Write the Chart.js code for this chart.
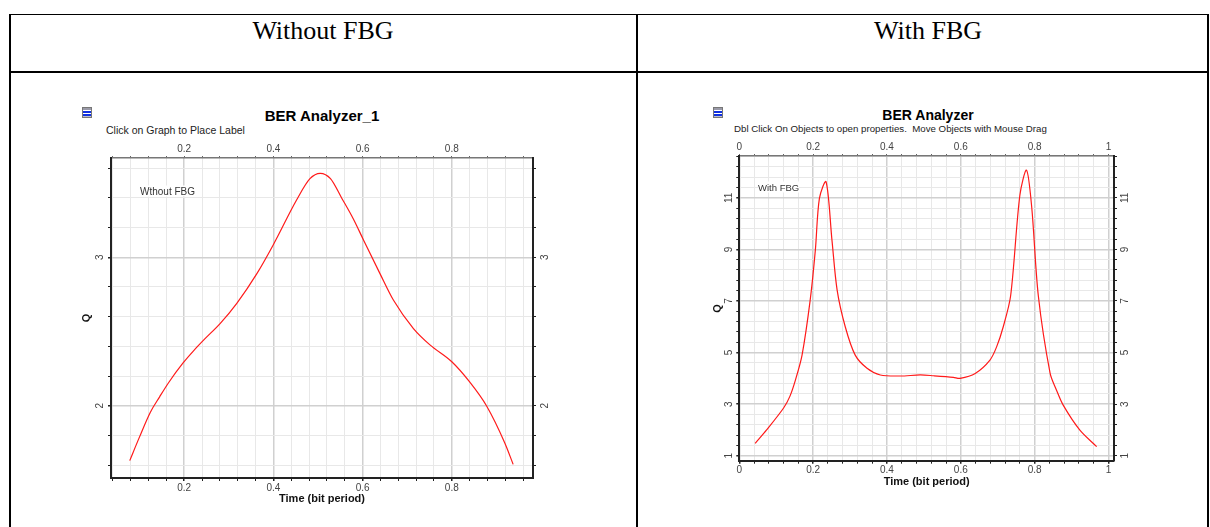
<!DOCTYPE html>
<html>
<head>
<meta charset="utf-8">
<script src="https://cdn.jsdelivr.net/npm/chart.js@4.4.1/dist/chart.umd.min.js"></script>
<style>
    html, body { margin: 0; padding: 0; background: #fff; width: 1210px; height: 527px; overflow: hidden; font-family: "Liberation Sans", Arial, sans-serif; }
    .rule { position: absolute; background: #000; }
    .head { position: absolute; top: 17.5px; font-family: "Liberation Serif", "Times New Roman", serif; font-size: 26px; line-height: 26px; transform: translateX(-50%); white-space: nowrap; }
    .title { position: absolute; font-weight: bold; font-size: 15px; line-height: 15px; transform: translate(-50%, -50%); white-space: nowrap; color: #000; }
    .sub { position: absolute; font-size: 10.5px; line-height: 10.5px; transform: translateY(-50%); white-space: pre; color: #222; }
    .note { position: absolute; z-index: 2; background: #fff; font-size: 10px; line-height: 11px; transform: translateY(-50%); white-space: nowrap; color: #333; }
    .icon { position: absolute; width: 10px; height: 11px; border: 1px solid #777; box-sizing: border-box;
            background: linear-gradient(#9a9aa8 0 2px, #fff 2px 3px, #1030e0 3px 5px, #fff 5px 6px, #1030e0 6px 8px, #c0c0c8 8px); }
    canvas { position: absolute; z-index: 1; }
</style>
</head>
<body>
<!-- table frame -->
<div class="rule" style="left:9px;top:13.5px;width:1199px;height:1.5px"></div>
<div class="rule" style="left:9px;top:71px;width:1199px;height:1.5px"></div>
<div class="rule" style="left:9px;top:13.5px;width:1.5px;height:514px"></div>
<div class="rule" style="left:636px;top:13.5px;width:1.5px;height:514px"></div>
<div class="rule" style="left:1207px;top:13.5px;width:1.5px;height:514px"></div>

<div class="head" style="left:323px">Without FBG</div>
<div class="head" style="left:928px">With FBG</div>

<div class="icon" style="left:82px;top:107px"></div>
<div class="title" style="left:322px;top:115px">BER Analyzer_1</div>
<div class="sub" style="left:106px;top:129.5px">Click on Graph to Place Label</div>
<div class="note" style="left:140px;top:191px">Wthout FBG</div>

<div class="icon" style="left:713px;top:107px"></div>
<div class="title" style="left:928px;top:115px;font-size:14px">BER Analyzer</div>
<div class="sub" style="left:734px;top:129px;font-size:9.7px">Dbl Click On Objects to open properties.  Move Objects with Mouse Drag</div>
<div class="note" style="left:758px;top:187px;font-size:9.5px">With FBG</div>

<canvas id="noFbg" width="530" height="374" style="left:60px;top:136px"></canvas>
<canvas id="withFbg" width="490" height="366" style="left:690px;top:134px"></canvas>

<script>
// Q factor vs time (bit period)
const noFbgTime = [0.078, 0.10, 0.124, 0.145, 0.165, 0.198, 0.221, 0.243, 0.281, 0.318, 0.363, 0.399, 0.452, 0.482, 0.505,
                   0.528, 0.553, 0.579, 0.602, 0.639, 0.669, 0.714, 0.751, 0.80, 0.84, 0.878, 0.919, 0.9375];
const noFbgQ = [1.63, 1.79, 1.955, 2.06, 2.155, 2.29, 2.37, 2.44, 2.555, 2.69, 2.89, 3.08, 3.386, 3.53, 3.566,
                3.53, 3.40, 3.26, 3.117, 2.89, 2.712, 2.52, 2.41, 2.296, 2.16, 1.998, 1.747, 1.605];

const fbgTime = [0.043, 0.074, 0.12, 0.137, 0.152, 0.17, 0.192, 0.206, 0.217, 0.235, 0.251, 0.265, 0.287, 0.314, 0.346,
                 0.382, 0.436, 0.49, 0.526, 0.58, 0.598, 0.639, 0.679, 0.697, 0.715, 0.735, 0.76, 0.778, 0.792, 0.81,
                 0.842, 0.859, 0.877, 0.922, 0.968];
const fbgQ = [1.48, 2.0, 2.85, 3.3, 3.93, 4.9, 7.03, 8.97, 10.98, 11.62, 9.36, 7.42, 6.0, 4.9, 4.39,
              4.13, 4.09, 4.13, 4.1, 4.04, 4.0, 4.19, 4.71, 5.22, 6.0, 7.2, 11.1, 12.07, 10.65, 7.2,
              4.19, 3.55, 2.97, 2.0, 1.35];

// labelled ticks
const noFbgXLabels = [0.2, 0.4, 0.6, 0.8];
const noFbgYLabels = [2, 3];
const fbgXLabels = [0, 0.2, 0.4, 0.6, 0.8, 1];
const fbgYLabels = [1, 3, 5, 7, 9, 11];

function stepTicks(start, end, step) {
    const out = [];
    for (let i = 0; start + i * step <= end + 1e-9; i++) out.push({ value: +(start + i * step).toFixed(4) });
    return out;
}
const isIn = (v, list) => list.some(l => Math.abs(l - v) < 1e-6);
const fmt = v => String(Math.round(v * 10) / 10);

// y tick labels are drawn turned on their side, like the original
const sideLabels = {
    id: 'sideLabels',
    afterDraw(chart, args, opts) {
        const { ctx, chartArea } = chart;
        ctx.save();
        ctx.font = '10px "Liberation Sans", Arial, sans-serif';
        ctx.fillStyle = '#444';
        ctx.textAlign = 'center';
        ctx.textBaseline = 'middle';
        opts.labels.forEach(v => {
            const y = chart.scales.y.getPixelForValue(v);
            [chartArea.left - opts.left, chartArea.right + opts.right].forEach(x => {
                ctx.save();
                ctx.translate(x, y);
                ctx.rotate(-Math.PI / 2);
                ctx.fillText(String(v), 0, 0);
                ctx.restore();
            });
        });
        ctx.restore();
    }
};

function makeChart(id, c) {
    const xGrid = {
        color: ctx => isIn(ctx.tick.value, c.xLabels) ? '#d0d0d0' : '#e8e8e8',
        lineWidth: ctx => isIn(ctx.tick.value, c.xLabels) ? 1.5 : 1,
        tickLength: 3, tickColor: '#222'
    };
    const yGrid = {
        color: ctx => isIn(ctx.tick.value, c.yLabels) ? '#d0d0d0' : '#e8e8e8',
        lineWidth: ctx => isIn(ctx.tick.value, c.yLabels) ? 1.5 : 1,
        tickLength: 3, tickColor: '#222'
    };
    const xTicks = { autoSkip: false, maxRotation: 0, color: '#444', font: { size: 10 },
                     callback: v => isIn(v, c.xLabels) ? fmt(v) : '' };
    const xStep = s => { s.ticks = stepTicks(c.xStart, c.xMax, 0.04); };
    const yStep = s => { s.ticks = stepTicks(c.yStart, c.yMax, c.yStep); };

    return new Chart(document.getElementById(id), {
        type: 'line',
        data: {
            datasets: [{
                data: c.time.map((t, i) => ({ x: t, y: c.q[i] })),
                borderColor: '#ff1a1a',
                borderWidth: 1.2,
                pointRadius: 0,
                tension: c.tension,
                cubicInterpolationMode: c.mode,
                fill: false
            }]
        },
        options: {
            responsive: false,
            animation: false,
            layout: { padding: 0 },
            plugins: {
                legend: { display: false },
                tooltip: { enabled: false },
                sideLabels: { labels: c.yLabels, left: c.labLeft, right: c.labRight }
            },
            scales: {
                x: {
                    type: 'linear', position: 'bottom', min: c.xMin, max: c.xMax,
                    afterBuildTicks: xStep,
                    afterFit: s => { s.height = c.bottomH; },
                    grid: xGrid,
                    border: { color: '#222', width: 2 },
                    ticks: Object.assign({ padding: 1 }, xTicks),
                    title: { display: true, text: 'Time (bit period)', color: '#111',
                             font: { size: 11, weight: 'bold' }, padding: { top: 0, bottom: c.titlePadX } }
                },
                x2: {
                    type: 'linear', position: 'top', min: c.xMin, max: c.xMax,
                    afterBuildTicks: xStep,
                    afterFit: s => { s.height = c.topH; },
                    grid: { drawOnChartArea: false, tickLength: 2, tickColor: '#666' },
                    border: { color: '#777', width: 1.5 },
                    ticks: Object.assign({ padding: 1 }, xTicks)
                },
                y: {
                    type: 'linear', position: 'left', min: c.yMin, max: c.yMax,
                    afterBuildTicks: yStep,
                    afterFit: s => { s.width = c.leftW; },
                    grid: yGrid,
                    border: { color: '#222', width: 2 },
                    ticks: { display: false },
                    title: { display: true, text: 'Q', color: '#111',
                             font: { size: 11, weight: 'bold' }, padding: { top: c.titlePadY, bottom: 0 } }
                },
                y2: {
                    type: 'linear', position: 'right', min: c.yMin, max: c.yMax,
                    afterBuildTicks: yStep,
                    afterFit: s => { s.width = c.rightW; },
                    grid: { drawOnChartArea: false, tickLength: 3, tickColor: '#222' },
                    border: { color: '#222', width: 2 },
                    ticks: { display: false }
                }
            }
        },
        plugins: [sideLabels]
    });
}

makeChart('noFbg', {
    time: noFbgTime, q: noFbgQ, tension: 0.4, mode: 'monotone',
    xLabels: noFbgXLabels, yLabels: noFbgYLabels,
    xMin: 0.036, xMax: 0.982, xStart: 0.04,
    yMin: 1.513, yMax: 3.669, yStart: 1.6, yStep: 0.2,
    leftW: 51, rightW: 57, topH: 22, bottomH: 32,
    titlePadX: 4.1, titlePadY: 20, labLeft: 10.3, labRight: 12.7
});

// sharp peaks here, so plain tension instead of monotone
makeChart('withFbg', {
    time: fbgTime, q: fbgQ, tension: 0.3, mode: 'default',
    xLabels: fbgXLabels, yLabels: fbgYLabels,
    xMin: 0, xMax: 1.015, xStart: 0,
    yMin: 0.806, yMax: 12.62, yStart: 1, yStep: 0.4,
    leftW: 49.3, rightW: 66, topH: 22, bottomH: 39.3,
    titlePadX: 11.4, titlePadY: 21.7, labLeft: 10.3, labRight: 11
});
</script>
</body>
</html>
